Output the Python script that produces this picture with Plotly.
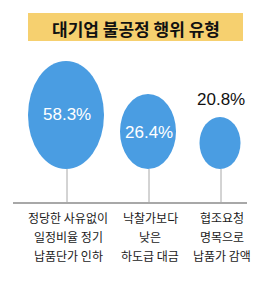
import plotly.graph_objects as go

title = "대기업 불공정 행위 유형"
values = [58.3, 26.4, 20.8]
value_labels = ["58.3%", "26.4%", "20.8%"]
categories = [
    ["정당한 사유없이", "일정비율 정기", "납품단가 인하"],
    ["낙찰가보다", "낮은", "하도급 대금"],
    ["협조요청", "명목으로", "납품가 감액"],
]

# layout / style (pixel coordinates)
W, H = 267, 282
centers_x = [66, 148, 220]
balloon_w = [76, 56, 41]
balloon_h = [108, 75, 52]
balloon_bottom = 169
baseline_y = 203
label_inside = [True, True, False]
blue = "#4A9DE2"
gray = "#A8A8A8"

fig = go.Figure()
fig.add_trace(go.Scatter(x=[0, W], y=[0, H], mode="markers",
                         marker=dict(opacity=0), hoverinfo="skip", showlegend=False))

shapes = []
annotations = []

# title box
shapes.append(dict(type="rect", xref="x", yref="y", x0=28, x1=243, y0=13, y1=41,
                   fillcolor="#F6D06F", line=dict(width=0), layer="below"))
annotations.append(dict(x=135.5, y=28, xref="x", yref="y", text="<b>" + title + "</b>",
                        showarrow=False, font=dict(family="Noto Sans CJK KR", size=17, color="#111111")))

# baseline
shapes.append(dict(type="line", xref="x", yref="y", x0=13, x1=247, y0=baseline_y, y1=baseline_y,
                   line=dict(color=gray, width=2)))

for i, v in enumerate(values):
    cx = centers_x[i]
    w, h = balloon_w[i], balloon_h[i]
    y0 = balloon_bottom - h
    # string
    shapes.append(dict(type="line", xref="x", yref="y", x0=cx + 1, x1=cx + 1,
                       y0=balloon_bottom, y1=baseline_y, line=dict(color=gray, width=1)))
    # balloon
    shapes.append(dict(type="circle", xref="x", yref="y", x0=cx - w / 2, x1=cx + w / 2,
                       y0=y0, y1=balloon_bottom, fillcolor=blue, line=dict(width=0)))
    if label_inside[i]:
        ly = y0 + h / 2 + (1 if i else -1)
        col = "white"
    else:
        ly = y0 - 18
        col = "#111111"
    annotations.append(dict(x=cx + 1, y=ly, xref="x", yref="y", text=value_labels[i],
                            showarrow=False,
                            font=dict(family="Liberation Sans Narrow, Liberation Sans, Arial", size=17, color=col)))
    for j, line in enumerate(categories[i]):
        annotations.append(dict(x=cx + 2, y=217.5 + j * 19, xref="x", yref="y", text=line,
                                showarrow=False,
                                font=dict(family="Noto Sans CJK KR", size=12, color="#1a1a1a")))

fig.update_layout(
    width=W, height=H, margin=dict(l=0, r=0, t=0, b=0),
    paper_bgcolor="white", plot_bgcolor="white",
    xaxis=dict(range=[0, W], visible=False, fixedrange=True),
    yaxis=dict(range=[H, 0], visible=False, fixedrange=True),
    shapes=shapes, annotations=annotations, showlegend=False,
)

fig.write_html("out.html")
